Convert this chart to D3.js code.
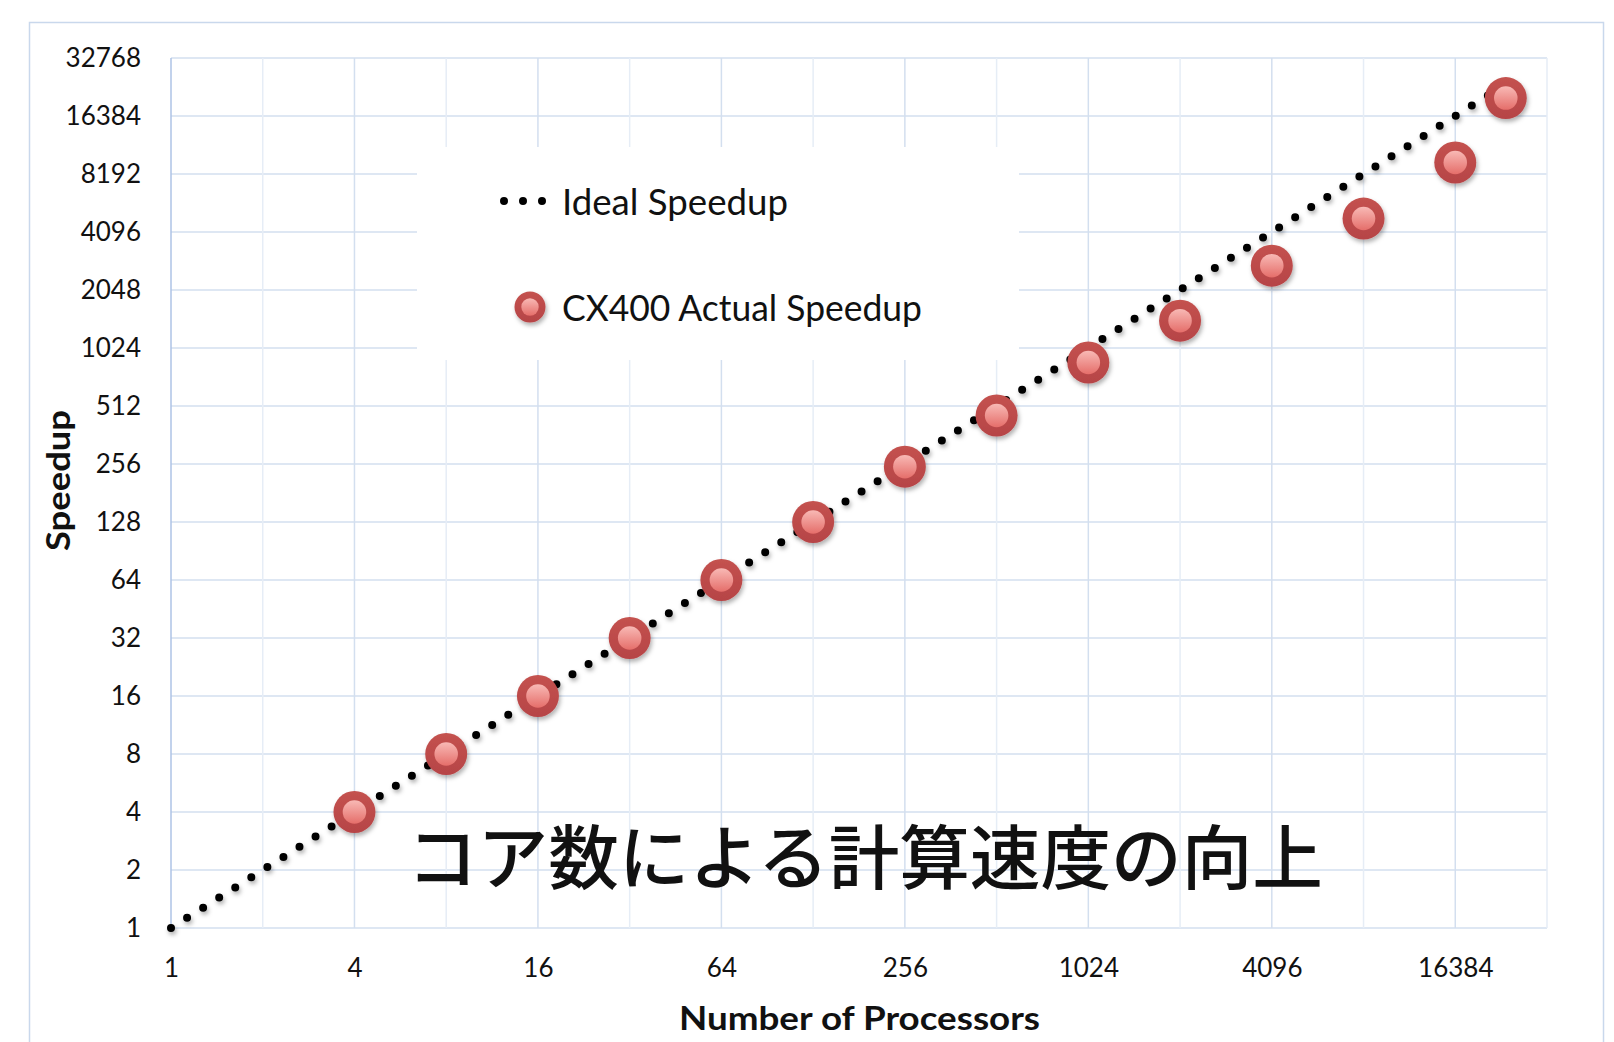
<!DOCTYPE html>
<html>
<head>
<meta charset="utf-8">
<script src="https://cdn.jsdelivr.net/npm/d3@7"></script>
<style>
  html, body { margin: 0; padding: 0; background: #fff; }
  svg { display: block; }
  text { font-family: Lato, "Open Sans", sans-serif; fill: #111; }
</style>
</head>
<body>
<svg id="chart" width="1614" height="1042"></svg>
<script>
// Data
const processors = [4, 8, 16, 32, 64, 128, 256, 512, 1024, 2048, 4096, 8192, 16384, 24000];
const actualSpeedup = [4, 8, 16, 32, 64, 128, 248, 457, 861, 1420, 2740, 4810, 9400, 20300];
const idealProcessors = [1, 24000];
const idealSpeedup = [1, 24000];
const yTickLabels = [1, 2, 4, 8, 16, 32, 64, 128, 256, 512, 1024, 2048, 4096, 8192, 16384, 32768];
const xTickLabels = [1, 4, 16, 64, 256, 1024, 4096, 16384];
const legendLabels = ['Ideal Speedup', 'CX400 Actual Speedup'];
const caption = 'コア数による計算速度の向上';

const svg = d3.select('#chart');
const W = 1614, H = 1042;
const plot = { left: 171, right: 1547, top: 58, bottom: 928 };

const x = d3.scaleLog().base(2).domain([1, 32768]).range([plot.left, plot.right]);
const y = d3.scaleLog().base(2).domain([1, 32768]).range([plot.bottom, plot.top]);

// defs: shadow + marker gradients
const defs = svg.append('defs');
const shadow = defs.append('filter').attr('id', 'shadow')
  .attr('x', '-50%').attr('y', '-50%').attr('width', '200%').attr('height', '200%');
shadow.append('feDropShadow').attr('dx', 1.5).attr('dy', 3).attr('stdDeviation', 2)
  .attr('flood-color', '#000').attr('flood-opacity', 0.3);

const inner = defs.append('linearGradient').attr('id', 'innerGrad')
  .attr('x1', 0).attr('y1', 0).attr('x2', 0).attr('y2', 1);
inner.append('stop').attr('offset', '0%').attr('stop-color', '#f8b9b5');
inner.append('stop').attr('offset', '100%').attr('stop-color', '#e56e6a');

const ring = defs.append('linearGradient').attr('id', 'ringGrad')
  .attr('x1', 0).attr('y1', 0).attr('x2', 0).attr('y2', 1);
ring.append('stop').attr('offset', '0%').attr('stop-color', '#c4524f');
ring.append('stop').attr('offset', '100%').attr('stop-color', '#b64446');

// Outer frame
svg.append('rect')
  .attr('x', 29.5).attr('y', 22.5).attr('width', 1574).attr('height', H + 10)
  .attr('fill', '#fff').attr('stroke', '#c9d8ec').attr('stroke-width', 1.5);

// Grid lines, one per doubling
const powers = d3.range(0, 16);
const grid = svg.append('g');
grid.selectAll('.hgrid').data(powers.map(p => 2 ** p)).join('line')
  .attr('x1', plot.left).attr('x2', plot.right)
  .attr('y1', d => y(d)).attr('y2', d => y(d))
  .attr('stroke', '#d3dfef').attr('stroke-width', 1.5);
grid.selectAll('.vgrid').data(powers.slice(1).map(p => 2 ** p)).join('line')
  .attr('y1', plot.top).attr('y2', plot.bottom)
  .attr('x1', d => x(d)).attr('x2', d => x(d))
  .attr('stroke', (d, i) => (i % 2 === 1 ? '#d3dfef' : '#e6edf6'))
  .attr('stroke-width', 1.5);
// Left axis line
grid.append('line')
  .attr('x1', plot.left).attr('x2', plot.left)
  .attr('y1', plot.top).attr('y2', plot.bottom)
  .attr('stroke', '#aec3e6').attr('stroke-width', 1.5);

// Legend box (white, covers grid)
const legend = svg.append('g');
legend.append('rect')
  .attr('x', 417).attr('y', 147).attr('width', 602).attr('height', 213)
  .attr('fill', '#fff');

// Axes
const yAxis = d3.axisLeft(y).tickValues(yTickLabels).tickSize(0).tickPadding(30)
  .tickFormat(d3.format('d'));
svg.append('g').attr('transform', `translate(${plot.left},0)`).call(yAxis)
  .call(g => g.select('.domain').remove())
  .selectAll('text').style('font-size', '26px').attr('fill', '#111');

const xAxis = d3.axisBottom(x).tickValues(xTickLabels).tickSize(0).tickPadding(31)
  .tickFormat(d3.format('d'));
svg.append('g').attr('transform', `translate(0,${plot.bottom})`).call(xAxis)
  .call(g => g.select('.domain').remove())
  .selectAll('text').style('font-size', '26px').attr('fill', '#111');

// Axis titles
svg.append('text')
  .attr('x', 679).attr('y', 1030)
  .attr('textLength', 361).attr('lengthAdjust', 'spacingAndGlyphs')
  .style('font-size', '33px').style('font-weight', 700)
  .text('Number of Processors');

svg.append('text')
  .attr('transform', 'translate(70,551) rotate(-90)')
  .attr('textLength', 141).attr('lengthAdjust', 'spacingAndGlyphs')
  .style('font-size', '33px').style('font-weight', 700)
  .text('Speedup');

// Caption (grid shows through)
svg.append('text')
  .attr('x', 407).attr('y', 884)
  .attr('textLength', 916).attr('lengthAdjust', 'spacingAndGlyphs')
  .style('font-family', '"Noto Sans CJK JP", sans-serif')
  .style('font-size', '70px').style('font-weight', 500)
  .text(caption);

// Ideal line (dotted)
const idealData = idealProcessors.map((p, i) => ({ p, s: idealSpeedup[i] }));
const line = d3.line().x(d => x(d.p)).y(d => y(d.s));
svg.append('path')
  .datum(idealData)
  .attr('d', line)
  .attr('fill', 'none')
  .attr('stroke', '#000')
  .attr('stroke-width', 8)
  .attr('stroke-linecap', 'round')
  .attr('stroke-dasharray', '0 19')
  .attr('filter', 'url(#shadow)');

// Actual speedup markers
function drawMarker(sel, r) {
  sel.append('circle').attr('r', r).attr('fill', 'url(#ringGrad)').attr('filter', 'url(#shadow)');
  sel.append('circle').attr('r', r * 0.56).attr('fill', 'url(#innerGrad)');
}

const actualData = processors.map((p, i) => ({ p, s: actualSpeedup[i] }));
svg.append('g').selectAll('g').data(actualData).join('g')
  .attr('transform', d => `translate(${x(d.p)},${y(d.s)})`)
  .each(function () { drawMarker(d3.select(this), 21); });

// Legend entries
legend.append('line')
  .attr('x1', 504).attr('x2', 546).attr('y1', 201).attr('y2', 201)
  .attr('stroke', '#000').attr('stroke-width', 8)
  .attr('stroke-linecap', 'round').attr('stroke-dasharray', '0 19');
legend.append('text')
  .attr('x', 562).attr('y', 215)
  .attr('textLength', 226).attr('lengthAdjust', 'spacingAndGlyphs')
  .style('font-size', '36px')
  .text(legendLabels[0]);

const lm = legend.append('g').attr('transform', 'translate(530,307)');
drawMarker(lm, 15.5);
legend.append('text')
  .attr('x', 562).attr('y', 321)
  .attr('textLength', 360).attr('lengthAdjust', 'spacingAndGlyphs')
  .style('font-size', '36px')
  .text(legendLabels[1]);
</script>
</body>
</html>
